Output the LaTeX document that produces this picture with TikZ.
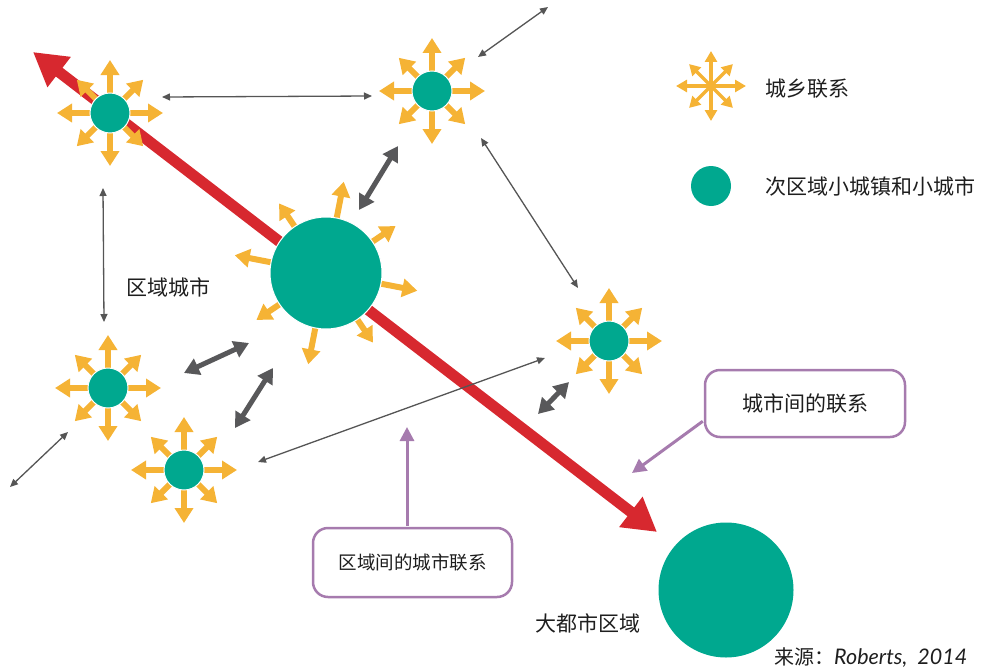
\documentclass[tikz,border=0pt]{standalone}
\usepackage{fontspec}
\setmainfont{Noto Sans CJK SC}
\newfontfamily\latinit{Lato}
\usetikzlibrary{arrows.meta,calc}
\definecolor{hubteal}{RGB}{0,168,143}
\definecolor{starorange}{RGB}{245,179,53}
\definecolor{mainred}{RGB}{215,40,47}
\definecolor{darkgrey}{RGB}{88,88,90}
\definecolor{thingrey}{RGB}{85,85,85}
\definecolor{callpurple}{RGB}{166,123,174}
\definecolor{textcol}{RGB}{30,30,30}
\newcommand\starburst[3]{%
  \foreach \a in {0,90,180,270} \draw[orarrow] (#1) -- ++(\a:#2);
  \foreach \a in {45,135,225,315} \draw[orarrow] (#1) -- ++(\a:#3);}
\begin{document}
\begin{tikzpicture}[x=1pt,y=-1pt,
  hub/.style={circle,fill=hubteal,draw=white,line width=1pt,minimum size=40pt,inner sep=0pt},
  orarrow/.style={draw=starorange,line width=6pt,-{Triangle[length=15pt,width=18pt]}},
  legarrow/.style={draw=starorange,line width=3.5pt,-{Triangle[length=11pt,width=12pt]}},
  redarrow/.style={draw=mainred,line width=11pt,{Triangle[length=33pt,width=36pt]}-{Triangle[length=33pt,width=36pt]}},
  thinlink/.style={draw=thingrey,line width=1.3pt,{Triangle[length=8pt,width=7pt]}-{Triangle[length=8pt,width=7pt]}},
  thicklink/.style={draw=darkgrey,line width=5pt,{Triangle[length=15pt,width=17pt]}-{Triangle[length=15pt,width=17pt]}},
  callbox/.style={draw=callpurple,line width=2.5pt,rounded corners=15pt,fill=white,text=textcol,inner sep=0pt},
  callarrow/.style={draw=callpurple,line width=3pt,-{Triangle[length=14pt,width=14pt]}},
  lbl/.style={text=textcol,inner sep=0pt,anchor=west,font=\fontsize{21}{25}\selectfont}]
\useasboundingbox (0,0) rectangle (987,669);

% hub positions
\coordinate (a) at (110,113);
\coordinate (b) at (432,91);
\coordinate (c) at (609,341);
\coordinate (d) at (108,388);
\coordinate (e) at (184,470);
\coordinate (f) at (326,273);
\coordinate (g) at (726,590);

% red corridor arrow
\coordinate (r1) at (657,532);
\coordinate (r2) at (33,52);
\draw[redarrow] (r2) -- (r1);

% orange starbursts
\starburst{a}{53}{47}
\starburst{b}{53}{47}
\starburst{c}{53}{47}
\starburst{d}{53}{47}
\starburst{e}{53}{47}
\foreach \a in {-79,-169,-259,-349} \draw[orarrow] (f) -- ++(\a:93);
\foreach \a in {-124,-214,-304,-34} \draw[orarrow] (f) -- ++(\a:84);

% hubs
\node[hub] (A) at (a) {};
\node[hub] (B) at (b) {};
\node[hub] (C) at (c) {};
\node[hub] (D) at (d) {};
\node[hub] (E) at (e) {};
\node[hub,minimum size=112pt] (F) at (f) {};
\node[hub,minimum size=135pt,draw=none] (G) at (g) {};

% thin links
\coordinate (t1a) at (162,97);  \coordinate (t1b) at (372,96);
\coordinate (t2a) at (478,57);  \coordinate (t2b) at (548,7);
\coordinate (t3a) at (103,188); \coordinate (t3b) at (104,322);
\coordinate (t4a) at (481,138); \coordinate (t4b) at (578,288);
\coordinate (t5a) at (10,487);  \coordinate (t5b) at (68,432);
\coordinate (t6a) at (258,462); \coordinate (t6b) at (545,358);
\draw[thinlink] (t1a) -- (t1b);
\draw[thinlink] (t2a) -- (t2b);
\draw[thinlink] (t3a) -- (t3b);
\draw[thinlink] (t4a) -- (t4b);
\draw[thinlink] (t5a) -- (t5b);
\draw[thinlink] (t6a) -- (t6b);

% thick links
\coordinate (k1a) at (398,146); \coordinate (k1b) at (359,210);
\coordinate (k2a) at (184,373); \coordinate (k2b) at (249,343);
\coordinate (k3a) at (235,428); \coordinate (k3b) at (273,368);
\coordinate (k4a) at (538,414); \coordinate (k4b) at (569,382);
\draw[thicklink] (k1a) -- (k1b);
\draw[thicklink] (k2a) -- (k2b);
\draw[thicklink] (k3a) -- (k3b);
\draw[thicklink] (k4a) -- (k4b);

% callouts
\node[callbox,minimum width=200pt,minimum height=67pt,font=\fontsize{21}{25}\selectfont] (box1) at (805,403.5) {城市间的联系};
\node[callbox,minimum width=199pt,minimum height=69pt,font=\fontsize{18.5}{22}\selectfont] (box2) at (412.5,562.5) {区域间的城市联系};
\coordinate (p1) at (632,473);
\coordinate (p2) at (407,427);
\draw[callarrow] ($(box1.south west)+(-1,-17)$) -- (p1);
\draw[callarrow] ($(box2.north)+(-5.5,-1)$) -- (p2);

% legend
\coordinate (ls) at (711,86);
\foreach \a in {0,90,180,270} \draw[legarrow] (ls) -- ++(\a:35);
\foreach \a in {45,135,225,315} \draw[legarrow] (ls) -- ++(\a:31);
\node[hub,draw=none] (LC) at (711,186) {};
\node[lbl] (l1) at (765,89) {城乡联系};
\node[lbl] (l2) at (765,186) {次区域小城镇和小城市};

% labels
\node[lbl] (lr) at (126,287) {区域城市};
\node[lbl] (lm) at (535,623) {大都市区域};
\node[lbl,font=\fontsize{20}{24}\selectfont] (src) at (774,658) {来源：{\latinit\itshape\fontsize{21.5}{24}\selectfont Roberts,\ \ 2014}};
\end{tikzpicture}
\end{document}
